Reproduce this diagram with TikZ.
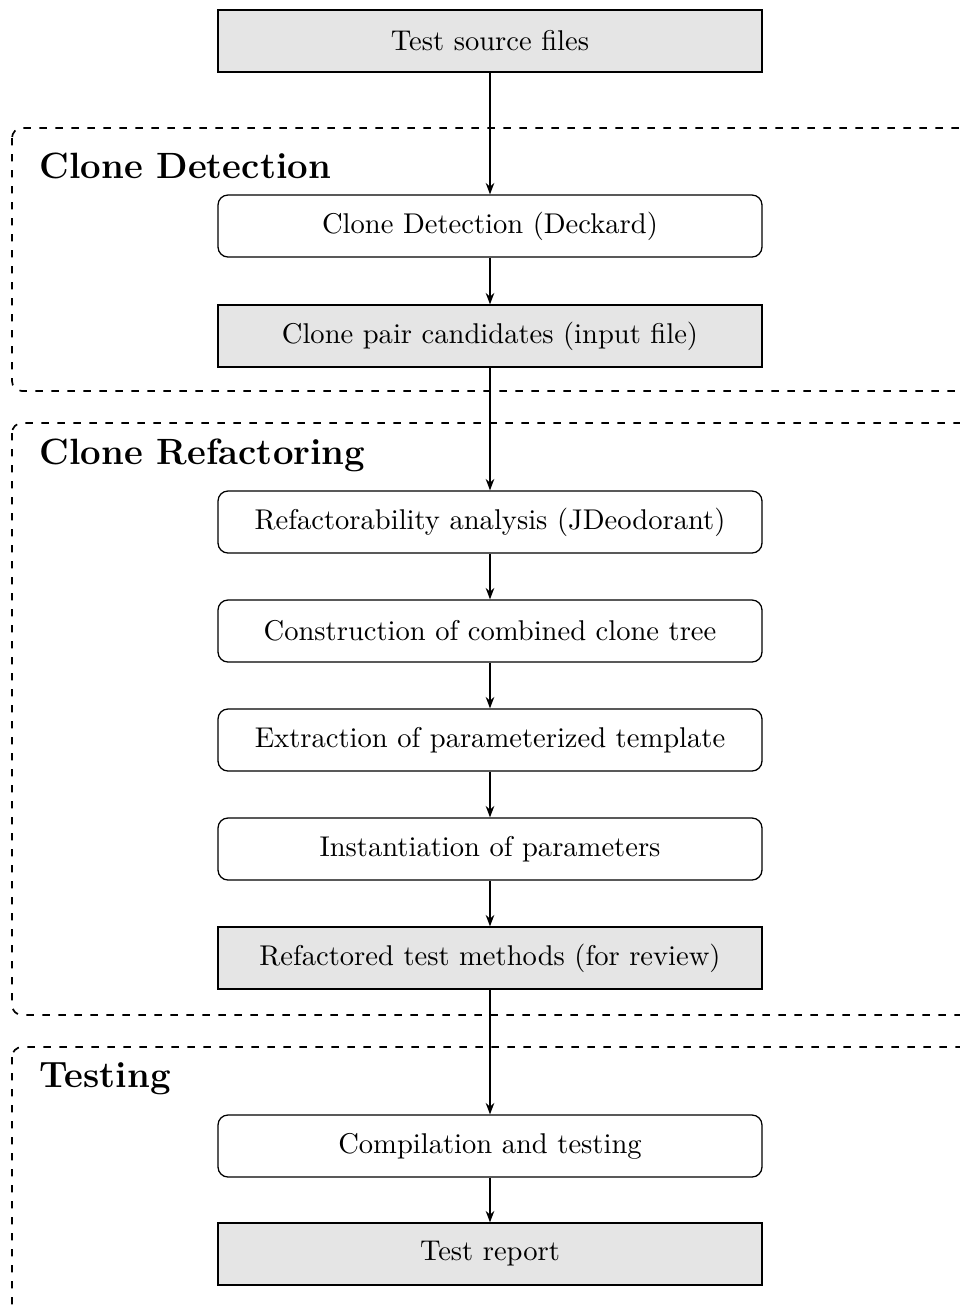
\documentclass[tikz,border=0pt]{standalone}
\usetikzlibrary{arrows.meta}
\begin{document}
\begin{tikzpicture}[x=0.35pt,y=-0.35pt,
  stepbox/.style={draw, line width=0.45pt, minimum width=190.4pt, minimum height=21.7pt, inner sep=0pt, font=\normalsize},
  databox/.style={stepbox, fill=gray!20},
  procbox/.style={stepbox, rounded corners=3.5pt},
  group/.style={draw, dash pattern=on 2.6pt off 3pt, line width=0.6pt, rounded corners=3.5pt},
  grouplabel/.style={anchor=west, font=\fontsize{12.8}{15}\selectfont\bfseries, inner sep=0pt},
  flow/.style={-{Stealth[length=4pt,width=3pt]}, line width=0.45pt}]
\useasboundingbox (0,0) rectangle (960,1309);
\clip (0,0) rectangle (960,1309);
% groups
\draw[group] (12,128) rectangle (1010,391);
\draw[group] (12,423) rectangle (1010,1015);
\draw[group] (12,1047) rectangle (1010,1360);
\node[grouplabel] (g1) at (39,166) {Clone Detection};
\node[grouplabel] (g2) at (39,455) {Clone Refactoring};
\node[grouplabel] (g3) at (39,1079) {Testing};
% nodes
\node[databox] (src) at (490,41) {Test source files};
\node[procbox] (det) at (490,226) {Clone Detection (Deckard)};
\node[databox] (cand) at (490,336) {Clone pair candidates (input file)};
\node[procbox] (ref) at (490,522) {Refactorability analysis (JDeodorant)};
\node[procbox] (cons) at (490,631) {Construction of combined clone tree};
\node[procbox] (extr) at (490,740) {Extraction of parameterized template};
\node[procbox] (inst) at (490,849) {Instantiation of parameters};
\node[databox] (rtm) at (490,958) {Refactored test methods (for review)};
\node[procbox] (comp) at (490,1146) {Compilation and testing};
\node[databox] (rep) at (490,1254) {Test report};
% connectors
\draw[flow] (src) -- (det);
\draw[flow] (det) -- (cand);
\draw[flow] (cand) -- (ref);
\draw[flow] (ref) -- (cons);
\draw[flow] (cons) -- (extr);
\draw[flow] (extr) -- (inst);
\draw[flow] (inst) -- (rtm);
\draw[flow] (rtm) -- (comp);
\draw[flow] (comp) -- (rep);
\end{tikzpicture}
\end{document}
